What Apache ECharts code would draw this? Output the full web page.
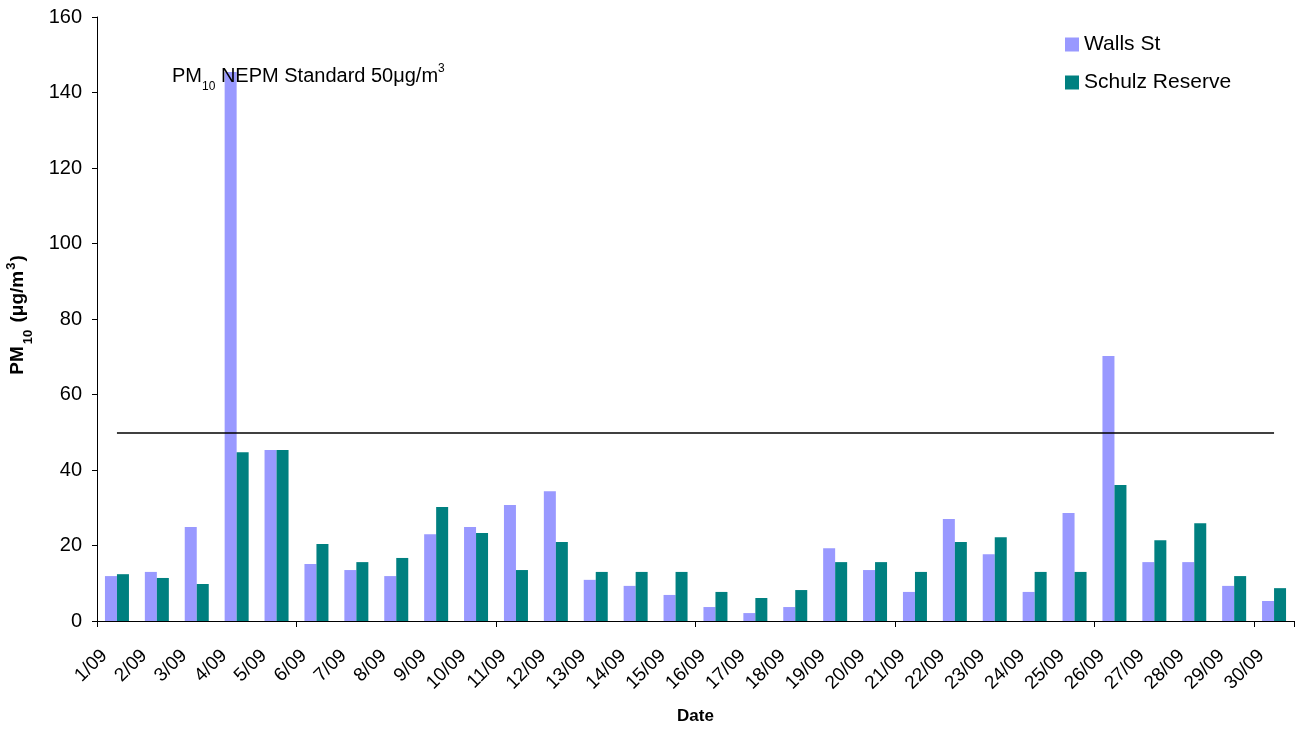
<!DOCTYPE html>
<html><head><meta charset="utf-8">
<script src="https://cdn.jsdelivr.net/npm/echarts@6/dist/echarts.min.js"></script>
<style>html,body{margin:0;padding:0;background:#fff}#c{width:1297px;height:729px}</style>
</head><body><div id="c"></div>
<script>
const categories = ['1/09','2/09','3/09','4/09','5/09','6/09','7/09','8/09','9/09','10/09','11/09','12/09','13/09','14/09','15/09','16/09','17/09','18/09','19/09','20/09','21/09','22/09','23/09','24/09','25/09','26/09','27/09','28/09','29/09','30/09'];
const wallsSt = [11.9,13.0,24.9,145.4,45.3,15.1,13.5,11.9,23.0,24.9,30.7,34.4,10.9,9.3,6.9,3.7,2.1,3.7,19.3,13.5,7.7,27.0,17.7,7.7,28.6,70.2,15.6,15.6,9.3,5.3];
const schulzReserve = [12.4,11.4,9.8,44.7,45.3,20.4,15.6,16.7,30.2,23.3,13.5,20.9,13.0,13.0,13.0,7.7,6.1,8.2,15.6,15.6,13.0,20.9,22.2,13.0,13.0,36.0,21.4,25.9,11.9,8.7];
const standard = 50;
const yTicks = [0,20,40,60,80,100,120,140,160];

const FONT = 'Liberation Sans, Arial, sans-serif';
const chart = echarts.init(document.getElementById('c'));
chart.setOption({
  animation: false,
  textStyle: {fontFamily: FONT},
  grid: {left: 97, right: 3, top: 17, bottom: 108, containLabel: false, outerBoundsMode: 'none'},
  legend: {
    orient: 'vertical', left: 1065, top: 34, icon: 'rect', padding: 0,
    itemWidth: 14, itemHeight: 14, itemGap: 17,
    textStyle: {fontSize: 21, color: '#000', fontFamily: FONT},
    data: ['Walls St','Schulz Reserve']
  },
  xAxis: {
    type: 'category', data: categories, boundaryGap: true,
    name: 'Date', nameLocation: 'middle', nameGap: 87,
    nameTextStyle: {fontSize: 17, fontWeight: 'bold', color: '#000', fontFamily: FONT},
    axisLine: {lineStyle: {color: '#000', width: 1}},
    axisTick: {show: true, interval: 4, length: 6, lineStyle: {color: '#000'}},
    axisLabel: {interval: 0, rotate: 45, fontSize: 19, color: '#000', margin: 19, padding: [0, 18, 0, 0], fontFamily: FONT},
    splitLine: {show: false}
  },
  yAxis: {
    type: 'value', min: yTicks[0], max: yTicks[yTicks.length-1], interval: 20,
    name: '{b|PM}{s|10}{b| (μg/m}{p|3}{b|)}',
    nameLocation: 'middle', nameRotate: 90, nameGap: 66,
    nameTextStyle: {
      color: '#000', fontFamily: FONT, padding: [0, 0, 0, 8],
      rich: {
        b: {fontSize: 19, fontWeight: 'bold', color: '#000', fontFamily: FONT, lineHeight: 26, verticalAlign: 'middle'},
        s: {fontSize: 13, fontWeight: 'bold', color: '#000', fontFamily: FONT, verticalAlign: 'bottom', lineHeight: 26, padding: [0,2,-4,2]},
        p: {fontSize: 13, fontWeight: 'bold', color: '#000', fontFamily: FONT, verticalAlign: 'top', lineHeight: 26, padding: [0,1,0,1]}
      }
    },
    axisLine: {show: true, lineStyle: {color: '#000', width: 1}},
    axisTick: {show: true, length: 5, lineStyle: {color: '#000'}},
    axisLabel: {fontSize: 20, color: '#000', margin: 15, fontFamily: FONT},
    splitLine: {show: false}
  },
  series: [
    {
      name: 'Walls St', type: 'bar', data: wallsSt, barWidth: 12, barGap: '0%',
      itemStyle: {color: '#9999FF'}
    },
    {
      name: 'Schulz Reserve', type: 'bar', data: schulzReserve, barWidth: 12, barGap: '0%',
      itemStyle: {color: '#008080'}
    },
    {
      name: 'NEPM Standard', type: 'line', data: [], silent: true,
      markLine: {
        silent: true, symbol: 'none',
        lineStyle: {color: '#000', width: 1.5, type: 'solid'},
        label: {show: false},
        data: [[{coord: [categories[0], standard]}, {coord: [categories[categories.length-1], standard]}]]
      }
    }
  ],
  graphic: [{
    type: 'text', left: 172, top: 63, z: 100,
    style: {
      text: '{a|PM}{s|10}{a| NEPM Standard 50μg/m}{p|3}',
      rich: {
        a: {fontSize: 20, fill: '#000', fontFamily: FONT, lineHeight: 26, verticalAlign: 'middle'},
        s: {fontSize: 12, fill: '#000', fontFamily: FONT, lineHeight: 26, verticalAlign: 'bottom', padding: [0,0,-4,0]},
        p: {fontSize: 12, fill: '#000', fontFamily: FONT, lineHeight: 26, verticalAlign: 'top'}
      }
    }
  }]
});
</script></body></html>
